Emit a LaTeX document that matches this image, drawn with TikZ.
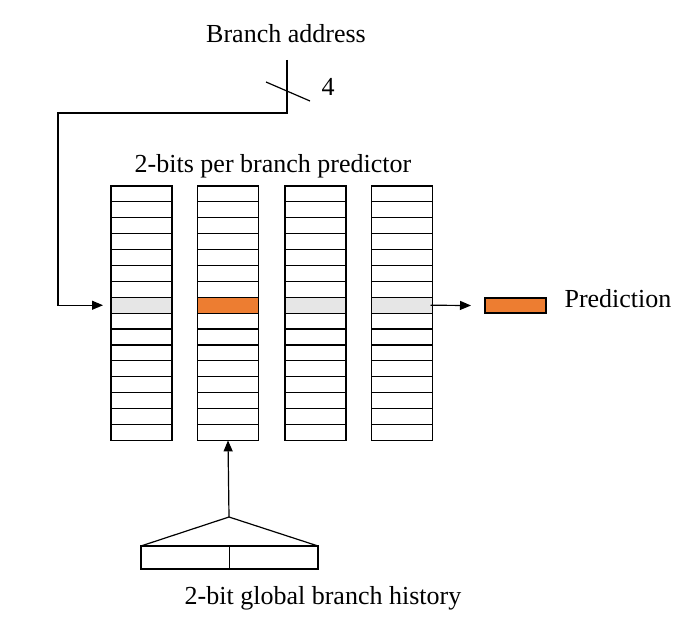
\documentclass[tikz,border=0pt]{standalone}
\usepackage{fontspec}
\setmainfont{Liberation Serif}
\usetikzlibrary{arrows.meta}
\definecolor{hitorange}{RGB}{237,125,49}
\definecolor{rowgray}{RGB}{230,230,230}
\begin{document}
\begin{tikzpicture}[x=0.5pt,y=-0.5pt,
	cell/.style={minimum width=30.5pt, minimum height=7.95pt, inner sep=0pt, outer sep=0pt},
	grid/.style={line width=0.6pt},
	lbl/.style={font=\fontsize{13}{15}\selectfont, inner sep=0pt},
	arr/.style={-{Triangle[length=5.5pt,width=4.5pt]}, line width=0.6pt}]
	\useasboundingbox (0,0) rectangle (676,626);
	% predictor tables
	\foreach \i/\x in {1/141.5, 2/228, 3/315.5, 4/402} {
		\foreach \j in {0,...,15} {
			\node[cell] (cell-\i-\j) at (\x,{186+15.9*(\j+0.5)}) {};
		}
	}
	\foreach \i in {1,3,4} \node[cell, fill=rowgray] at (cell-\i-7) {};
	\node[cell, fill=hitorange] at (cell-2-7) {};
	\foreach \i in {1,...,4} {
		\draw[grid] (cell-\i-0.north west) rectangle (cell-\i-15.south east);
		\foreach \j in {1,...,15} \draw[grid] (cell-\i-\j.north west) -- (cell-\i-\j.north east);
	}
	\node[lbl] (title) at (273,166) {2-bits per branch predictor};
	% branch address
	\node[lbl] (addrlbl) at (286,34) {Branch address};
	\coordinate (addr) at (287,60);
	\coordinate (tap) at (287,113);
	\coordinate (bend) at (58,113);
	\draw[arr] (addr) -- (tap) -- (bend) |- ([xshift=-4pt]cell-1-7.west);
	\draw[grid] (266,82) -- (310,101); %bus width
	\node[lbl] (width) at (328,87) {4};
	% prediction
	\node[cell, draw, line width=0.6pt, fill=hitorange, minimum height=7.5pt] (pred) at (515.5,305.5) {};
	\draw[arr] ([xshift=-1pt]cell-4-7.east) -- ([xshift=-7pt]pred.west);
	\node[lbl] (predlbl) at (618,299) {Prediction};
	% global history
	\node[cell, draw, line width=0.6pt, minimum width=88.5pt, minimum height=11.5pt] (history) at (229.5,557.5) {};
	\draw[grid] (history.north) -- (history.south);
	\coordinate (fan) at (229,517);
	\draw[grid] (history.north west) -- (fan) -- (history.north east);
	\draw[arr] (fan) -- (cell-2-15.south);
	\node[lbl] (histlbl) at (323,598) {2-bit global branch history};
\end{tikzpicture}
\end{document}
